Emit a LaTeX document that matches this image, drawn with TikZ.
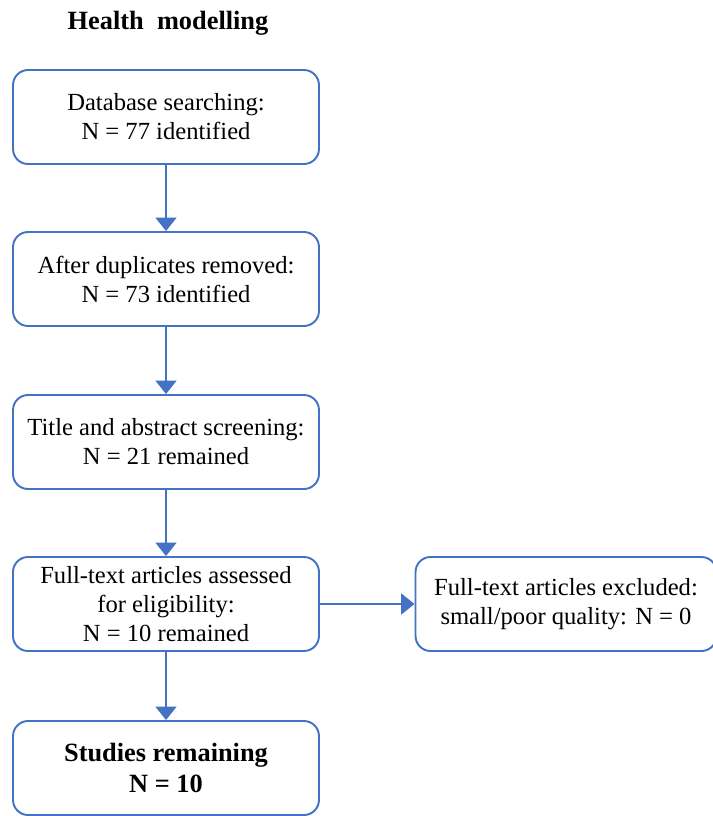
\documentclass[tikz,border=0pt]{standalone}
\usepackage{fontspec}
\setmainfont{Liberation Serif}
\usetikzlibrary{arrows.meta}
\definecolor{flowblue}{RGB}{68,114,196}
\tikzset{%
    bx/.style={draw=flowblue, line width=1.1pt, rounded corners=0.3cm, fill=white,
        minimum width=6.12cm, minimum height=1.88cm, align=center,
        font=\fontsize{14}{16.5}\selectfont},
    bxb/.style={bx, font=\fontsize{15}{17.5}\selectfont\bfseries},
    ar/.style={draw=flowblue, line width=1.1pt, -{Triangle[width=0.42cm, length=0.27cm]}}
}

\begin{document}
\begin{tikzpicture}[x=0.02cm,y=-0.02cm]
    \useasboundingbox (0,0) rectangle (713,816);
    \node[font=\fontsize{15}{17}\selectfont\bfseries] (tit) at (168,23) {Health\ \ modelling};
    \node[bx] (db) at (166,117) {Database searching:\\N = 77 identified};
    \node[bx] (dup) at (166,279) {After duplicates removed:\\N = 73 identified};
    \node[bx] (scr) at (166,442) {Title and abstract screening:\\N = 21 remained};
    \node[bx] (full) at (166,604) {Full-text articles assessed\\for eligibility:\\N = 10 remained};
    \node[bx, minimum width=6.02cm] (exc) at (566,604) {Full-text articles excluded:\\small/poor quality: N = 0};
    \node[bxb] (fin) at (166,768) {Studies remaining\\N = 10};
    \draw[ar] (db) -- (dup);
    \draw[ar] (dup) -- (scr);
    \draw[ar] (scr) -- (full);
    \draw[ar] (full) -- (fin);
    \draw[ar] (full) -- (exc);
\end{tikzpicture}
\end{document}
